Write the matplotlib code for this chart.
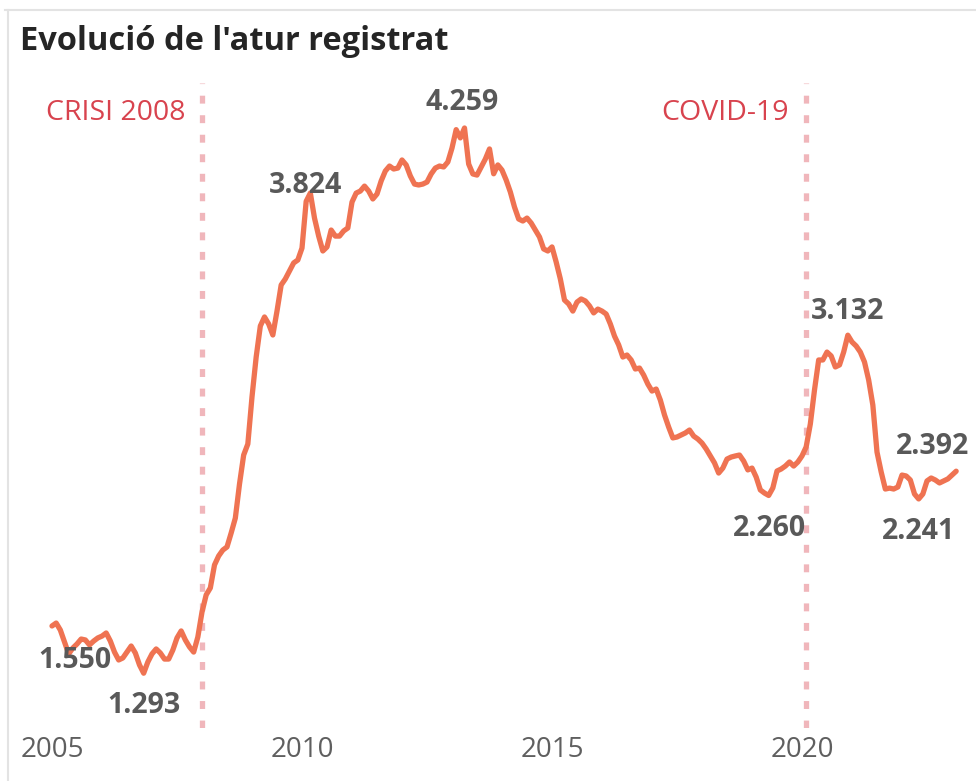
import numpy as np
import matplotlib.pyplot as plt
from matplotlib.lines import Line2D

plt.rcParams['font.family'] = ['Open Sans', 'DejaVu Sans']

# atur registrat, dades mensuals des de gener 2005
atur = [
    1550, 1566, 1528, 1463, 1398, 1430, 1452, 1479, 1474, 1447, 1468, 1485,
    1495, 1512, 1468, 1408, 1365, 1376, 1408, 1441, 1403, 1338, 1293, 1354,
    1398, 1425, 1403, 1370, 1370, 1419, 1485, 1523, 1474, 1436, 1408, 1490,
    1626, 1719, 1757, 1882, 1931, 1963, 1980, 2056, 2137, 2322, 2480, 2540,
    2796, 3013, 3182, 3231, 3193, 3133, 3263, 3405, 3438, 3481, 3525, 3541,
    3606, 3860, 3905, 3769, 3671, 3590, 3612, 3704, 3671, 3671, 3699, 3715,
    3856, 3905, 3916, 3943, 3916, 3873, 3900, 3971, 4025, 4052, 4036, 4041,
    4085, 4058, 3998, 3954, 3949, 3954, 3965, 4009, 4041, 4052, 4047, 4074,
    4150, 4250, 4205, 4259, 4063, 4009, 4003, 4047, 4090, 4145, 4010, 4058,
    4030, 3976, 3911, 3829, 3764, 3753, 3769, 3742, 3704, 3666, 3601, 3590,
    3612, 3530, 3438, 3323, 3302, 3263, 3312, 3329, 3318, 3291, 3253, 3274,
    3263, 3247, 3193, 3127, 3079, 3013, 3024, 2997, 2948, 2953, 2915, 2866,
    2828, 2839, 2779, 2698, 2632, 2573, 2578, 2589, 2600, 2616, 2583, 2567,
    2545, 2513, 2475, 2437, 2382, 2409, 2458, 2469, 2475, 2480, 2447, 2399,
    2409, 2360, 2290, 2273, 2260, 2301, 2393, 2404, 2420, 2442, 2420, 2442,
    2475, 2524, 2649, 2834, 2997, 2997, 3040, 3019, 2959, 2970, 3040, 3132,
    3095, 3073, 3040, 2986, 2888, 2752, 2496, 2388, 2295, 2300, 2295, 2306,
    2371, 2366, 2344, 2268, 2241, 2268, 2339, 2355, 2344, 2328, 2339, 2350,
    2371, 2392,
]
start_year = 2005
tick_years = [2005, 2010, 2015, 2020]
event_years = [2008.0, 2020.08]
event_names = ["CRISI 2008", "COVID-19"]
label_idx = [0, 22, 62, 99, 172, 191, 208, 217]
label_txt = ["1.550", "1.293", "3.824", "4.259", "2.260", "3.132", "2.241", "2.392"]

dates = start_year + np.arange(len(atur)) / 12.0

W, H = 976, 781
fig = plt.figure(figsize=(W / 100, H / 100), dpi=100)

# axes placed so that plot area spans px 83..728 vertically
top_px, bot_px = 83, 728
ax = fig.add_axes([0, 1 - bot_px / H, 1, (bot_px - top_px) / H])
px_per_year = 50.0
x0_px = 52.0
ax.set_xlim(start_year - x0_px / px_per_year, start_year + (W - x0_px) / px_per_year)
units_per_px = 5.44
ax.set_ylim(4259 - (bot_px - 128) * units_per_px, 4259 + (128 - top_px) * units_per_px)
ax.axis('off')

ax.plot(dates, atur, color='#EF7352', lw=3.8, solid_joinstyle='round',
        solid_capstyle='round', zorder=3)

# vertical event lines
for yr, name in zip(event_years, event_names):
    ax.axvline(yr, color='#F0B6BB', lw=3.8, linestyle=(0, (1.5, 2.2)),
               dash_capstyle='butt', zorder=2)
    ax.annotate(name, xy=(yr, 1), xycoords=('data', 'axes fraction'),
                xytext=(-17, -30), textcoords='offset pixels',
                ha='right', va='center', fontsize=20.5, color='#D8434E')

# value labels
offsets = [(23, -35), (0, -32), (-5, 8), (-2, 25), (1, -33), (0, 24), (0, -33), (-24, 25)]
for i, txt, off in zip(label_idx, label_txt, offsets):
    ax.annotate(txt, xy=(dates[i], atur[i]), xytext=off, textcoords='offset pixels',
                ha='center', va='center', fontsize=20.5, fontweight='bold',
                color='#595959', zorder=4)

# x tick labels
for yr in tick_years:
    ax.annotate(str(yr), xy=(yr, 0), xycoords=('data', 'axes fraction'),
                xytext=(0, -22), textcoords='offset pixels',
                ha='center', va='center', fontsize=20, color='#5F5F5F')

# card border and title
fig.add_artist(Line2D([5 / W, 1], [1 - 10 / H, 1 - 10 / H], color='#E3E3E3', lw=1.5))
fig.add_artist(Line2D([8 / W, 8 / W], [0, 1 - 10 / H], color='#E3E3E3', lw=1.5))
fig.text(20 / W, 1 - 42 / H, "Evolució de l'atur registrat", ha='left', va='center',
         fontsize=23.5, fontweight='bold', color='#252525')

fig.savefig('out.png', dpi=100)
